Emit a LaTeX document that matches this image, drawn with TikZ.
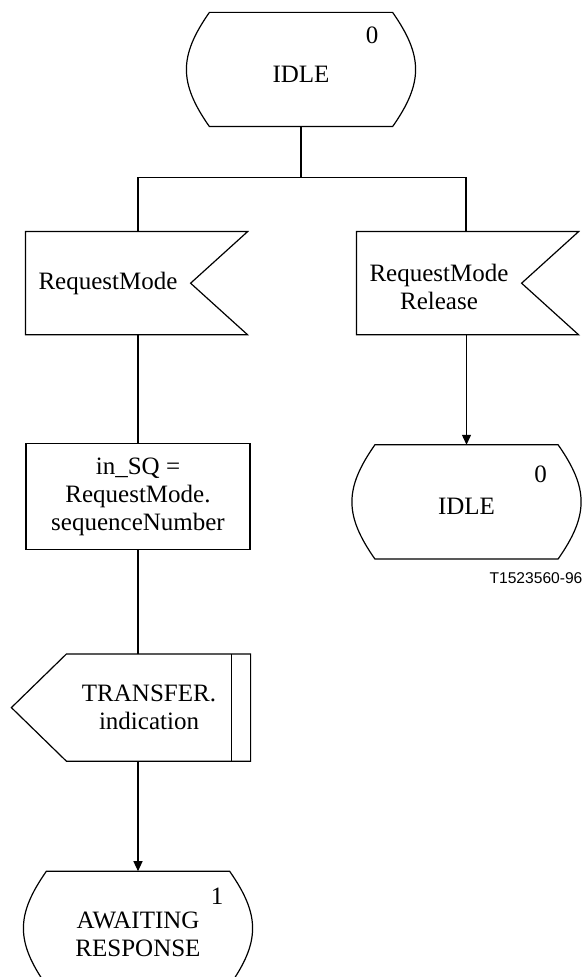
\documentclass[tikz,border=0pt]{standalone}
\usepackage{fontspec}
\setmainfont{Liberation Serif}
\newfontfamily\figidfont{Liberation Sans}
\usepackage{tikz}
\usetikzlibrary{arrows.meta, positioning}
\tikzstyle{sdlstate} = [minimum width=91pt, minimum height=56.5pt, inner sep=0pt, text height=13pt, align=center,
  append after command={\pgfextra{\draw (\tikzlastnode.north west) -- (\tikzlastnode.north east)
    to[out=-55,in=55,looseness=1.2] (\tikzlastnode.south east) -- (\tikzlastnode.south west)
    to[out=125,in=-125,looseness=1.2] (\tikzlastnode.north west) -- cycle;}}]
\tikzstyle{inputsig} = [minimum width=82pt, minimum height=51pt, inner sep=0pt, align=center,
  append after command={\pgfextra{\draw (\tikzlastnode.north west) -- ([xshift=28.5pt]\tikzlastnode.north east)
    -- (\tikzlastnode.east) -- ([xshift=28.5pt]\tikzlastnode.south east) -- (\tikzlastnode.south west) -- cycle;}}]
\tikzstyle{outputsig} = [minimum width=82pt, minimum height=53pt, inner sep=0pt, align=center,
  append after command={\pgfextra{\draw (\tikzlastnode.north west) -- ([xshift=9.5pt]\tikzlastnode.north east)
    -- ([xshift=9.5pt]\tikzlastnode.south east) -- (\tikzlastnode.south west) -- ([xshift=-27.5pt]\tikzlastnode.west) -- cycle;
    \draw (\tikzlastnode.north east) -- (\tikzlastnode.south east);}}]
\tikzstyle{task} = [rectangle, draw, minimum width=112pt, minimum height=53pt, inner sep=0pt, align=center]
\tikzstyle{statenum} = [inner sep=0pt]
\tikzstyle{arrow} = [->,>={Triangle[length=5pt,width=4.5pt]}]

\begin{document}
\begin{tikzpicture}[x=0.5pt, y=-0.5pt, line width=0.6pt, font=\fontsize{12.5}{14}\selectfont]
\useasboundingbox (0,0) rectangle (584,977);

\node (idle) [sdlstate] at (301,69.5) {IDLE};
\node (idlenum) [statenum] at ([xshift=35.5pt,yshift=17pt]idle.center) {0};
\node (req) [inputsig, below=52.5pt of idle, xshift=-96.5pt] {RequestMode};
\node (rel) [inputsig, below=52.5pt of idle, xshift=69pt, text height=26pt] {RequestMode\\Release};
\node (setsq) [task, below=54pt of req, xshift=15pt] {in\_SQ =\\RequestMode.\\sequenceNumber};
\node (transfer) [outputsig, below=52pt of setsq, xshift=5.5pt] {TRANSFER.\\indication};
\node (await) [sdlstate, below=55pt of transfer, xshift=-5.5pt, text height=28pt] {AWAITING\\RESPONSE};
\node (awaitnum) [statenum] at ([xshift=39.5pt,yshift=16pt]await.center) {1};
\node (idle2) [sdlstate, below=55pt of rel, xshift=13.75pt] {IDLE};
\node (idle2num) [statenum] at ([xshift=37pt,yshift=13.75pt]idle2.center) {0};
\node (figid) [anchor=base east, inner sep=0pt, font=\figidfont\fontsize{7.8}{9}\selectfont] at (583,583) {T1523560-96};

\coordinate (split) at ([yshift=-25.5pt]idle.south);
\coordinate (reqin) at ([xshift=15pt]req.north);
\coordinate (relin) at ([xshift=13.5pt]rel.north);

\draw (idle.south) -- (split);
\draw (reqin) |- (split) -| (relin);
\draw (reqin |- req.south) -- (setsq.north);
\draw (setsq.south) -- (setsq.south |- transfer.north);
\draw [arrow] (await.north |- transfer.south) -- (await.north);
\draw [arrow] (idle2.north |- rel.south) -- (idle2.north);

\end{tikzpicture}
\end{document}
